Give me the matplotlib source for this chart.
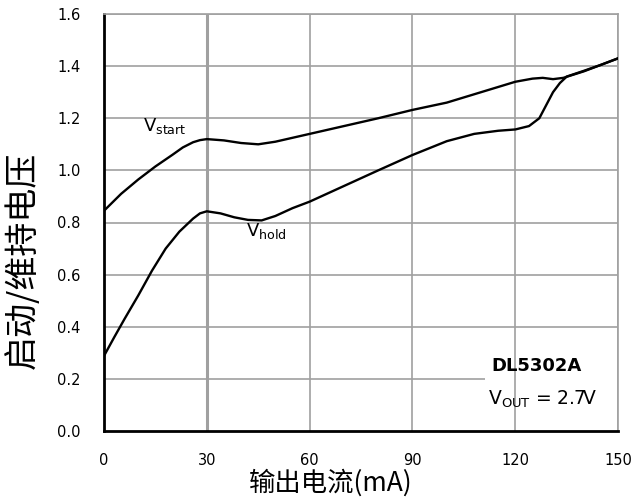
import numpy as np
import matplotlib
matplotlib.use("Agg")
import matplotlib.pyplot as plt
from matplotlib.patches import Rectangle

plt.rcParams['font.family'] = ['DejaVu Sans', 'Noto Sans CJK SC']
plt.rcParams['mathtext.fontset'] = 'custom'
plt.rcParams['mathtext.rm'] = 'DejaVu Sans'
plt.rcParams['mathtext.it'] = 'DejaVu Sans'

# 数据
x_start = [0, 5, 10, 15, 20, 23, 26, 28, 30, 35, 40, 45, 50, 60, 70, 80, 90, 100,
           110, 120, 125, 128, 131, 134, 140, 145, 150]
v_start = [0.845, 0.91, 0.965, 1.015, 1.06, 1.088, 1.108, 1.116, 1.12, 1.115,
           1.105, 1.10, 1.11, 1.14, 1.17, 1.20, 1.232, 1.26, 1.30, 1.34, 1.352,
           1.355, 1.35, 1.355, 1.38, 1.405, 1.43]

x_hold = [0, 3, 6, 10, 14, 18, 22, 26, 28, 30, 34, 38, 42, 46, 50, 55, 60, 70, 80,
          90, 100, 108, 115, 120, 124, 127, 129, 131, 133, 135, 140, 145, 150]
v_hold = [0.288, 0.36, 0.43, 0.52, 0.615, 0.70, 0.765, 0.815, 0.835, 0.843, 0.835,
          0.82, 0.81, 0.808, 0.825, 0.855, 0.88, 0.94, 1.00, 1.059, 1.112, 1.14,
          1.152, 1.157, 1.17, 1.20, 1.25, 1.30, 1.335, 1.36, 1.382, 1.405, 1.43]

x_ticks = [0, 30, 60, 90, 120, 150]
y_ticks = [0.0, 0.2, 0.4, 0.6, 0.8, 1.0, 1.2, 1.4, 1.6]

fig = plt.figure(figsize=(6.34, 5.0), dpi=100)
ax = fig.add_axes([0.164, 0.138, 0.811, 0.834])

# 网格
grid_c = '#a0a0a0'
for yv in y_ticks[1:]:
    ax.axhline(yv, color=grid_c, lw=1.2, zorder=1)
# 注释框遮住横线
ax.add_patch(Rectangle((111.2, 0.16), 38.8, 0.09, facecolor='white',
                       edgecolor='none', zorder=1.5))
for xv in x_ticks[1:]:
    ax.axvline(xv, color=grid_c, lw=2.2 if xv == 30 else 1.2, zorder=2)

ax.plot(x_start, v_start, color='black', lw=1.7, zorder=3)
ax.plot(x_hold, v_hold, color='black', lw=1.7, zorder=3)

ax.set_xlim(0, 150)
ax.set_ylim(0, 1.6)
ax.set_xticks(x_ticks)
ax.set_yticks(y_ticks)
ax.set_yticklabels([f'{v:.1f}' for v in y_ticks])
ax.tick_params(length=0, labelsize=10.5)
ax.tick_params(axis='y', pad=17)
ax.tick_params(axis='x', pad=16)

for s in ['top', 'right']:
    ax.spines[s].set_color(grid_c)
    ax.spines[s].set_linewidth(1.2)
for s in ['left', 'bottom']:
    ax.spines[s].set_color('black')
    ax.spines[s].set_linewidth(2)

fig.text(0.036, 0.48, '启动/维持电压', fontsize=24.5, rotation=90,
         ha='center', va='center', family='Noto Sans CJK SC')
fig.text(0.522, 0.034, '输出电流(mA)', fontsize=19,
         ha='center', va='center', family='Noto Sans CJK SC')

ax.text(11.5, 1.15, r'$\mathrm{V_{start}}$', fontsize=13, zorder=4)
ax.text(41.5, 0.748, r'$\mathrm{V_{hold}}$', fontsize=13, zorder=4)

ax.text(113, 0.25, 'DL5302A', fontsize=13, fontweight='bold', zorder=4,
        va='center')
ax.text(112, 0.12, r'$\mathrm{V_{OUT}}$ = 2.7V', fontsize=13.5, zorder=4, va='center')

fig.savefig('out.png', dpi=100)
